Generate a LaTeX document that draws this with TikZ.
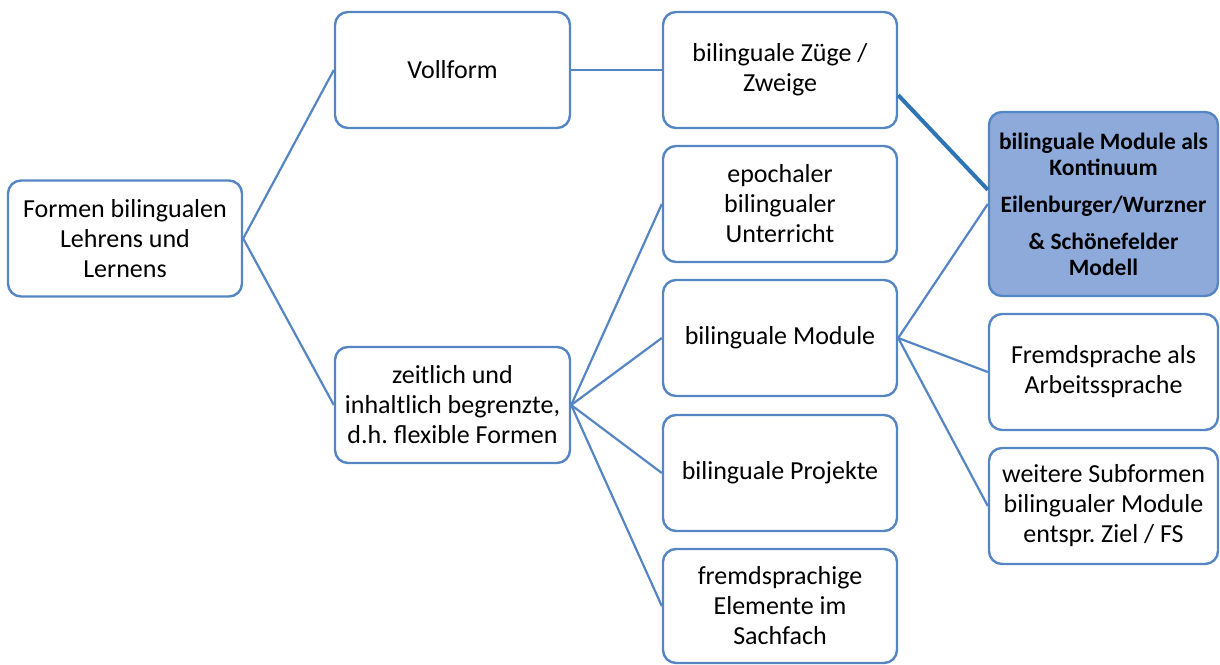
\documentclass[tikz,border=0pt]{standalone}
\usepackage{fontspec}
\setmainfont{Carlito}
\frenchspacing
\definecolor{boxline}{HTML}{5585C2}
\definecolor{linkline}{HTML}{5585C2}
\definecolor{strongline}{HTML}{2E75B6}
\definecolor{hlfill}{HTML}{8EAADB}
\tikzset{
  formbox/.style={draw=boxline, line width=2.4pt, rounded corners=13pt, fill=white,
    minimum width=234pt, minimum height=116pt, align=center, inner sep=2pt,
    font=\fontsize{26}{30}\selectfont},
  hlbox/.style={formbox, fill=hlfill, minimum width=229pt, minimum height=184pt,
    font=\fontsize{23.5}{26}\selectfont\bfseries},
  rightbox/.style={formbox, minimum width=229pt},
  link/.style={draw=linkline, line width=2.2pt},
  stronglink/.style={draw=strongline, line width=4pt}
}
\begin{document}
\begin{tikzpicture}[x=1pt,y=-1pt]
\useasboundingbox (0,0) rectangle (1220,664);

% first and second level
\node[formbox] (root) at (125,238.5) {Formen bilingualen\\Lehrens und\\Lernens};
\node[formbox, minimum width=235pt] (voll) at (452.5,70) {Vollform};
\node[formbox, minimum width=235pt] (zeit) at (452.5,405) {zeitlich und\\inhaltlich begrenzte,\\d.h. flexible Formen};

% third level
\node[formbox] (zuege) at (780,70) {bilinguale Züge /\\Zweige};
\node[formbox] (epoch) at (780,204) {epochaler\\bilingualer\\Unterricht};
\node[formbox] (modul) at (780,338) {bilinguale Module};
\node[formbox] (proj) at (780,473) {bilinguale Projekte};
\node[formbox, minimum height=114pt] (fremd) at (780,606) {fremdsprachige\\Elemente im\\Sachfach};

% subforms of the modules
\node[hlbox] (kont) at (1103.5,204) {bilinguale Module als\\Kontinuum\\[11pt]Eilenburger/Wurzner\\[11pt]\& Schönefelder\\Modell};
\node[rightbox] (arb) at (1103.5,372) {Fremdsprache als\\Arbeitssprache};
\node[rightbox] (weit) at (1103.5,506) {weitere Subformen\\bilingualer Module\\entspr. Ziel / FS};

% connectors
\draw[link] (root.east) -- (voll.west);
\draw[link] (root.east) -- (zeit.west);
\draw[link] (voll.east) -- (zuege.west);
\draw[link] (zeit.east) -- (epoch.west);
\draw[link] (zeit.east) -- (modul.west);
\draw[link] (zeit.east) -- (proj.west);
\draw[link] (zeit.east) -- (fremd.west);
\draw[link] (modul.east) -- (kont.west);
\draw[link] (modul.east) -- (arb.west);
\draw[link] (modul.east) -- (weit.west);
\draw[stronglink] (zuege.-12.5) -- (kont.173);
\end{tikzpicture}
\end{document}
